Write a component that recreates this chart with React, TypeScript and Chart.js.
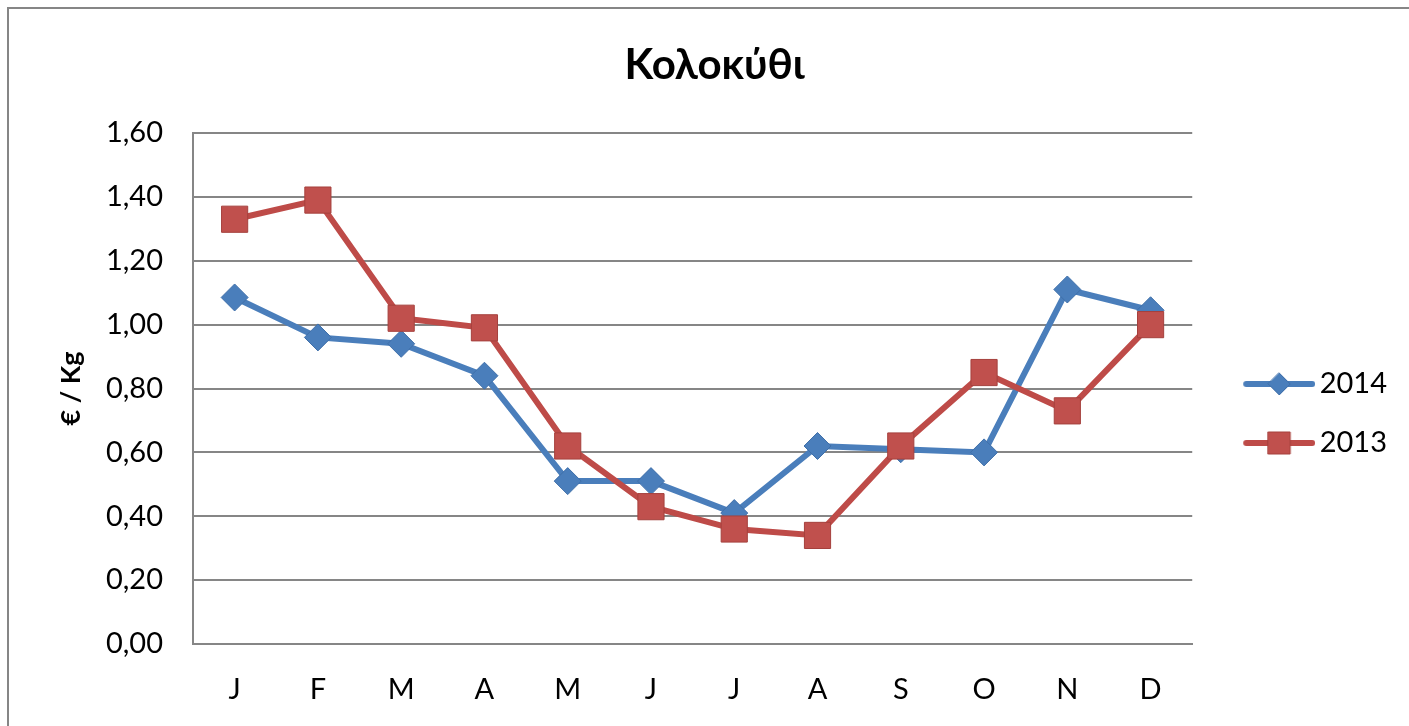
import React, { useEffect, useRef } from "react";
import { Chart, registerables } from "chart.js";

Chart.register(...registerables);

// ---- data ----
const months = ["J", "F", "M", "A", "M", "J", "J", "A", "S", "O", "N", "D"];
const prices2014 = [1.085, 0.96, 0.94, 0.84, 0.51, 0.51, 0.41, 0.62, 0.61, 0.6, 1.11, 1.045];
const prices2013 = [1.33, 1.39, 1.02, 0.99, 0.62, 0.43, 0.36, 0.34, 0.62, 0.85, 0.73, 1.0];
const seriesNames = ["2014", "2013"];
const chartTitle = "Κολοκύθι";
const yAxisTitle = "€ / Kg";
const yMin = 0;
const yMax = 1.6;
const yStep = 0.2;

const BLUE = "#4A7EBB";
const RED = "#BE4B48";
const RED_FILL = "#C0504D";
const GRID = "#868686";
const FONT = "Lato, 'Open Sans', sans-serif";

function legendSample(color: string, fill: string, border: string, shape: "diamond" | "square") {
  const c = document.createElement("canvas");
  c.width = 103;
  c.height = 32;
  const ctx = c.getContext("2d")!;
  ctx.strokeStyle = color;
  ctx.lineWidth = 6;
  ctx.lineCap = "round";
  ctx.beginPath();
  ctx.moveTo(34, 16);
  ctx.lineTo(100, 16);
  ctx.stroke();
  const cx = 67;
  const cy = 16;
  ctx.fillStyle = fill;
  ctx.strokeStyle = border;
  ctx.lineWidth = 1;
  ctx.beginPath();
  if (shape === "diamond") {
    const r = 11;
    ctx.moveTo(cx, cy - r);
    ctx.lineTo(cx + r, cy);
    ctx.lineTo(cx, cy + r);
    ctx.lineTo(cx - r, cy);
    ctx.closePath();
  } else {
    const h = 11;
    ctx.rect(cx - h, cy - h, 2 * h, 2 * h);
  }
  ctx.fill();
  ctx.stroke();
  return c;
}

export default function App() {
  const ref = useRef<HTMLCanvasElement | null>(null);

  useEffect(() => {
    if (!ref.current) return;
    const sample2014 = legendSample(BLUE, BLUE, "#3F6FA9", "diamond");
    const sample2013 = legendSample(RED, RED_FILL, "#A5403D", "square");

    const chart = new Chart(ref.current, {
      type: "line",
      data: {
        labels: months,
        datasets: [
          {
            label: seriesNames[1],
            data: prices2013,
            borderColor: RED,
            borderWidth: 6,
            pointStyle: "rect",
            pointRadius: 18.5,
            pointHoverRadius: 18.5,
            pointBackgroundColor: RED_FILL,
            pointBorderColor: "#A5403D",
            pointBorderWidth: 1,
            tension: 0,
          },
          {
            label: seriesNames[0],
            data: prices2014,
            borderColor: BLUE,
            borderWidth: 6,
            pointStyle: "rectRot",
            pointRadius: 13.5,
            pointHoverRadius: 13.5,
            pointBackgroundColor: BLUE,
            pointBorderColor: "#3F6FA9",
            pointBorderWidth: 1,
            tension: 0,
          },
        ],
      },
      options: {
        animation: false,
        responsive: false,
        devicePixelRatio: 1,
        events: [],
        layout: { padding: { left: 32, top: 0, right: 12, bottom: 19 } },
        plugins: {
          title: {
            display: true,
            text: chartTitle,
            color: "#000",
            font: { family: FONT, size: 42, weight: "bold" },
            padding: { top: 40, bottom: 42.6 },
          },
          legend: {
            position: "right",
            fullSize: false,
            align: "center",
            title: {
              display: true,
              text: " ",
              font: { size: 10 },
              padding: { top: 38, bottom: 0 },
            },
            labels: {
              usePointStyle: true,
              pointStyleWidth: 83,
              padding: 30,
              color: "#000",
              font: { family: FONT, size: 29 },
              generateLabels: () => [
                {
                  text: seriesNames[0],
                  pointStyle: sample2014 as any,
                  fillStyle: BLUE,
                  strokeStyle: BLUE,
                  lineWidth: 0,
                  hidden: false,
                  datasetIndex: 1,
                  fontColor: "#000",
                },
                {
                  text: seriesNames[1],
                  pointStyle: sample2013 as any,
                  fillStyle: RED,
                  strokeStyle: RED,
                  lineWidth: 0,
                  hidden: false,
                  datasetIndex: 0,
                  fontColor: "#000",
                },
              ],
            },
          },
          tooltip: { enabled: false },
        },
        scales: {
          x: {
            offset: true,
            grid: { display: false, drawTicks: false },
            border: { display: true, color: GRID, width: 2 },
            ticks: { padding: 28, color: "#000", font: { family: FONT, size: 29 } },
            afterFit: (scale: any) => {
              scale.height = 63;
            },
          },
          y: {
            min: yMin,
            max: yMax,
            grid: { color: GRID, lineWidth: 2, drawTicks: false },
            border: { display: true, color: GRID, width: 2 },
            ticks: {
              stepSize: yStep,
              padding: 30,
              color: "#000",
              font: { family: FONT, size: 29 },
              callback: (v: any) => Number(v).toFixed(2).replace(".", ","),
            },
            title: {
              display: true,
              text: yAxisTitle,
              color: "#000",
              font: { family: FONT, size: 27, weight: "bold" },
              padding: { top: 23, bottom: 0 },
            },
            afterFit: (scale: any) => {
              scale.width = 161;
            },
          },
        },
      },
    });
    return () => chart.destroy();
  }, []);

  return (
    <div style={{ position: "fixed", left: 0, top: 0, width: 1409, height: 726, overflow: "hidden", background: "#fff" }}>
      <canvas ref={ref} width={1409} height={726} style={{ position: "absolute", left: 0, top: 0, width: 1409, height: 726 }} />
      <div
        style={{
          position: "absolute",
          left: 7,
          top: 7,
          width: 1500,
          height: 800,
          borderLeft: `2px solid ${GRID}`,
          borderTop: `2px solid ${GRID}`,
          pointerEvents: "none",
        }}
      />
    </div>
  );
}
